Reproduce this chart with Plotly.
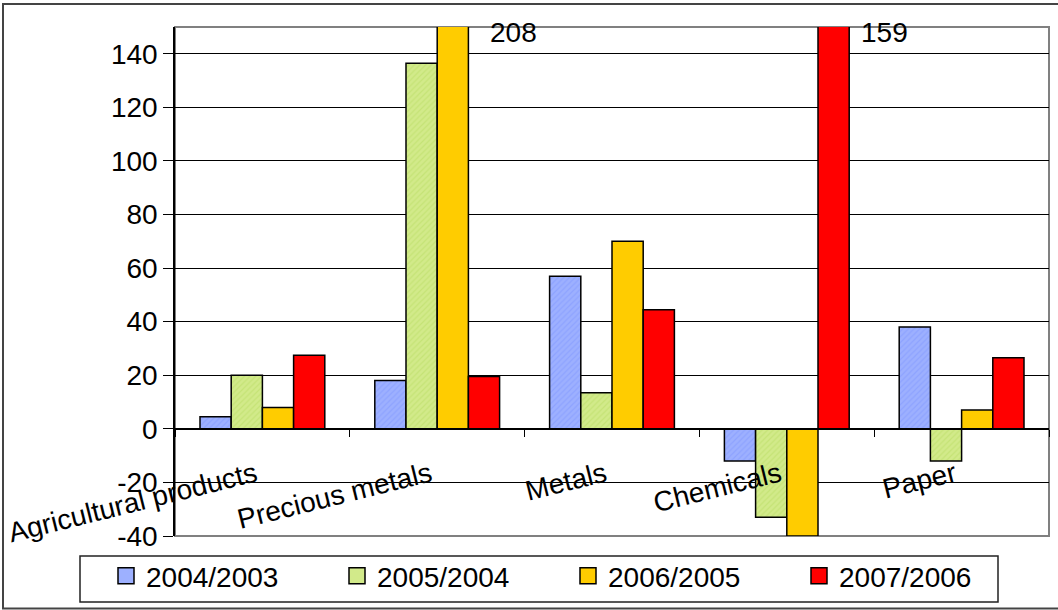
import plotly.graph_objects as go

categories = ["Agricultural products", "Precious metals", "Metals", "Chemicals", "Paper"]
series_names = ["2004/2003", "2005/2004", "2006/2005", "2007/2006"]
v_2004_2003 = [4.5, 18, 57, -12, 38]
v_2005_2004 = [20, 136.5, 13.5, -33, -12]
v_2006_2005 = [8, 208, 70, -40, 7]
v_2007_2006 = [27.5, 19.5, 44.5, 159, 26.5]
series_values = [v_2004_2003, v_2005_2004, v_2006_2005, v_2007_2006]
colors = ["#9DB0FF", "#D2EA8A", "#FFCC00", "#FF0000"]
pattern_fg = ["#7F95FF", "#B8DC62", None, None]
y_min, y_max = -40, 150
y_ticks = [-40, -20, 0, 20, 40, 60, 80, 100, 120, 140]
y_ticktext = [str(v) for v in y_ticks]

FONT = "Liberation Sans, Arial, sans-serif"
FS = 28
W, H = 1058, 610
ML, MR, MT, MB = 175, 9, 27, 74
PW, PH = W - ML - MR, H - MT - MB


def px_x(p):
    return (p - ML) / PW


def px_y(p):
    return (H - MB - p) / PH


fig = go.Figure()

for name, vals, col, pfg in zip(series_names, series_values, colors, pattern_fg):
    marker = dict(color=col, line=dict(color="black", width=1.5))
    if pfg:
        marker["pattern"] = dict(shape="/", fgcolor=pfg, bgcolor=col, size=4, solidity=0.3)
    fig.add_trace(go.Bar(x=categories, y=vals, name=name, marker=marker,
                         showlegend=False, legendgroup=name))

# legend entries with larger square symbols
for name, col in zip(series_names, colors):
    fig.add_trace(go.Scatter(x=[None], y=[None], mode="markers", name=name,
                             legendgroup=name,
                             marker=dict(symbol="square", size=16, color=col,
                                         line=dict(color="black", width=1.5))))

# labels for bars exceeding the axis
bar_w = (1 - 0.286) / len(series_names)
for si, vals in enumerate(series_values):
    for ci, v in enumerate(vals):
        if v > y_max:
            xc = ci + (si - (len(series_names) - 1) / 2) * bar_w
            fig.add_annotation(x=xc, y=148, xref="x", yref="y", text=str(int(round(v))),
                               showarrow=False, xanchor="left", yanchor="middle",
                               xshift=35 if ci == 1 else 25,
                               font=dict(size=FS, color="black", family=FONT))

# plot-area border (gray)
fig.add_shape(type="rect", xref="paper", yref="paper", x0=0, x1=1, y0=0, y1=1,
              line=dict(color="#808080", width=2), layer="below")
# outer chart frame
fig.add_shape(type="rect", xref="paper", yref="paper",
              x0=px_x(3), x1=px_x(1060), y0=px_y(608.5), y1=px_y(4),
              line=dict(color="#444444", width=2), layer="below")
# legend frame
fig.add_shape(type="rect", xref="paper", yref="paper",
              x0=px_x(80), x1=px_x(998), y0=px_y(602), y1=px_y(556),
              line=dict(color="#222222", width=1.5), fillcolor="white", layer="below")

fig.update_layout(
    width=W, height=H,
    margin=dict(l=ML, r=MR, t=MT, b=MB, autoexpand=False),
    paper_bgcolor="white", plot_bgcolor="white",
    barmode="group", bargap=0.286, bargroupgap=0,
    font=dict(family=FONT, size=FS, color="black"),
    showlegend=True,
    legend=dict(orientation="h", x=px_x(106), xanchor="left", y=px_y(551), yanchor="top",
                borderwidth=0, bgcolor="rgba(0,0,0,0)",
                font=dict(size=FS, family=FONT), entrywidth=186, itemwidth=30,
                traceorder="normal"),
)
fig.update_yaxes(range=[y_min, y_max], tickvals=y_ticks, ticktext=y_ticktext, showgrid=True,
                 gridcolor="black", gridwidth=1, zeroline=False,
                 showline=True, linecolor="black", linewidth=1.5,
                 ticks="outside", ticklen=10, tickcolor="black",
                 tickfont=dict(size=FS, family=FONT))
fig.update_xaxes(type="category", anchor="free", position=(0 - y_min) / (y_max - y_min),
                 showgrid=False, showline=True, linecolor="black", linewidth=1.5,
                 ticks="outside", ticklen=7, tickcolor="black", tickson="boundaries",
                 tickangle=-14, ticklabelstandoff=18, ticklabelshift=-7,
                 tickfont=dict(size=FS, family=FONT))

fig.write_html("out.html")
